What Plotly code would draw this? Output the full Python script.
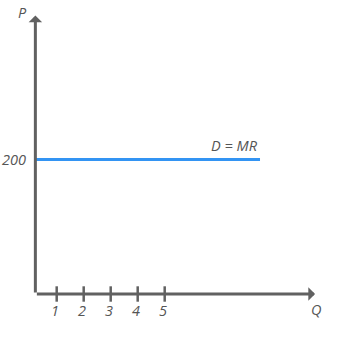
import plotly.graph_objects as go

# Data
price_level = 200
demand_q = [0.21, 8.53]          # extent of the D = MR line along Q
demand_p = [price_level, price_level]
tick_q = [1, 2, 3, 4, 5]
tick_labels = ["1", "2", "3", "4", "5"]
axis_origin_q = 0.21
q_axis_end = 10.57
p_axis_end = 414

AX = "#616161"
TXT = "#555555"
BLUE = "#3394f3"
FONT = "Open Sans"

fig = go.Figure()

# demand line
fig.add_trace(go.Scatter(x=demand_q, y=demand_p, mode="lines",
                         line=dict(color=BLUE, width=3.2), hoverinfo="skip"))

# ticks on Q axis
fig.add_trace(go.Scatter(x=tick_q, y=[0] * len(tick_q), mode="markers",
                         marker=dict(symbol="line-ns", size=11,
                                     line=dict(color=AX, width=2.5)),
                         hoverinfo="skip"))

ann = []
# axes with arrows
ann.append(dict(x=q_axis_end, y=0, ax=axis_origin_q, ay=0, xref="x", yref="y",
                axref="x", ayref="y", showarrow=True, arrowhead=1, arrowsize=0.75,
                arrowwidth=3, arrowcolor=AX, text="", standoff=0))
ann.append(dict(x=axis_origin_q, y=p_axis_end, ax=axis_origin_q, ay=0, xref="x", yref="y",
                axref="x", ayref="y", showarrow=True, arrowhead=1, arrowsize=0.75,
                arrowwidth=3, arrowcolor=AX, text="", standoff=0))

f = dict(family=FONT, size=14.5, color=TXT)
for q, lab in zip(tick_q, tick_labels):
    ann.append(dict(x=q - 0.08, y=-24, text="<i>" + lab + "</i>", showarrow=False,
                    xref="x", yref="y", font=f))
ann.append(dict(x=-0.06, y=price_level, text="<i>200</i>", showarrow=False,
                xref="x", yref="y", xanchor="right", font=f))
ann.append(dict(x=7.6, y=221, text="<i>D = MR</i>", showarrow=False,
                xref="x", yref="y", font=f))
ann.append(dict(x=-0.28, y=418, text="<i>P</i>", showarrow=False,
                xref="x", yref="y", font=f))
ann.append(dict(x=10.6, y=-23, text="<i>Q</i>", showarrow=False,
                xref="x", yref="y", font=f))

fig.update_layout(
    width=350, height=340,
    margin=dict(l=0, r=0, t=0, b=0),
    paper_bgcolor="white", plot_bgcolor="white",
    showlegend=False,
    xaxis=dict(range=[-1.1, 11.863], visible=False, fixedrange=True),
    yaxis=dict(range=[-68.4, 437.2], visible=False, fixedrange=True),
    annotations=ann,
)

fig.write_html("out.html", config={"displayModeBar": False})
